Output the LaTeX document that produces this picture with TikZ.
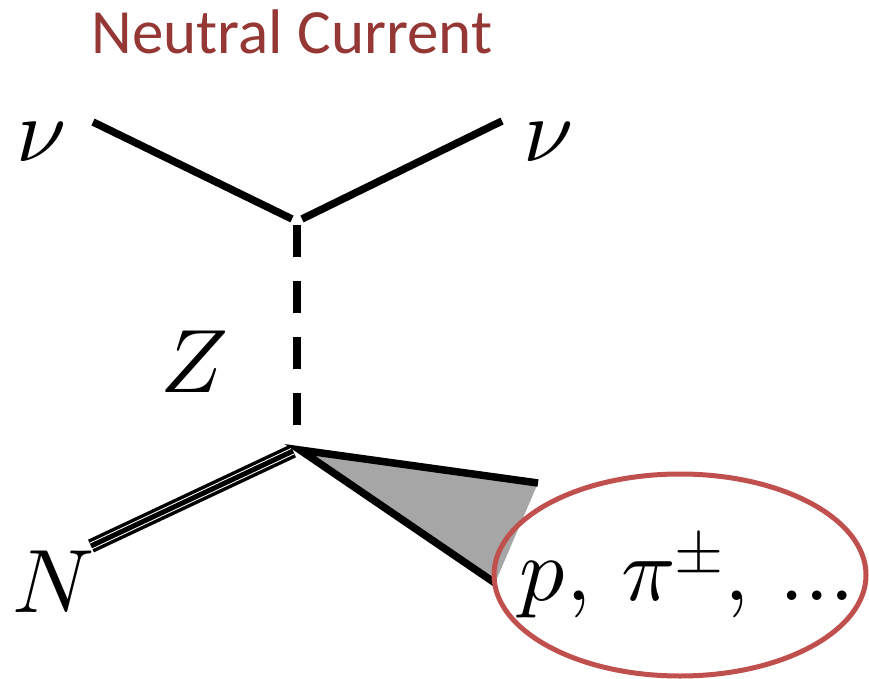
\documentclass[tikz,border=0pt]{standalone}
\usepackage{fontspec}
\usepackage{unicode-math}
\setmathfont{Latin Modern Math}
\newfontfamily\titlefont{Carlito}
\usepackage{tikz}
\usetikzlibrary{calc,positioning,shapes.geometric}
\definecolor{figTitle}{HTML}{953735}
\definecolor{figRing}{HTML}{C0504D}
\definecolor{figBlob}{HTML}{A6A6A6}

\begin{document}
\begin{tikzpicture}[
  x=1pt, y=-1pt,
  every node/.style={inner sep=0pt},
  fermion/.style={line width=7.5pt, line cap=butt, black},
  boson/.style={line width=8pt, line cap=butt, black, dash pattern=on 32pt off 24pt},
  mathlab/.style={font=\fontsize{90}{90}\selectfont, anchor=base},
  titlestyle/.style={font=\titlefont\fontsize{63}{63}\selectfont, figTitle, anchor=base},
]
\useasboundingbox (0,0) rectangle (869,679);

% ======= Title =======
\node[titlestyle] (title) at (292,54) {Neutral Current};

% ======= Neutrino vertex =======
\node[mathlab] (nuin) at (41,162) {$\nu$};
\node[mathlab] (nuout) at (548,162) {$\nu$};
\coordinate (nuinend) at (93,122);
\coordinate (nuoutend) at (502,121);
\coordinate (vtopL) at (292,219);
\coordinate (vtopR) at (302,219);
\draw[fermion] (nuinend) -- (vtopL);
\draw[fermion] (vtopR) -- (nuoutend);

% Z exchange
\coordinate (ztop) at (297,225);
\coordinate (zbot) at (297,430);
\draw[boson] (ztop) -- (zbot);
\node[mathlab] (zlab) at (194,392) {$Z$};

% ======= Nucleon vertex =======
\node[mathlab] (nlab) at (53,612) {$N$};
\coordinate (nend) at (91,546);
\coordinate (nvert) at (293,451);
\draw[line width=14pt, black] (nend) -- (nvert);
\draw[line width=7pt, white] (nend) -- (nvert);
\draw[line width=5pt, black] (nend) -- (nvert);

% Hadronic blob
\coordinate (hapex) at (300,450);
\coordinate (htop) at (538,483);
\coordinate (hlow) at (495,583);
\fill[figBlob] (hapex) -- (htop) -- (hlow) -- cycle;
\draw[fermion, line join=miter] (htop) -- (hapex) -- (hlow);

% Final state
\node[draw=figRing, line width=5pt, ellipse, minimum width=372pt, minimum height=202pt]
  (ring) at (680,575) {};
\node[mathlab] (hadrons) at (687,600) {$p,\,\pi^{\pm},\,\ldots$};

\end{tikzpicture}
\end{document}
